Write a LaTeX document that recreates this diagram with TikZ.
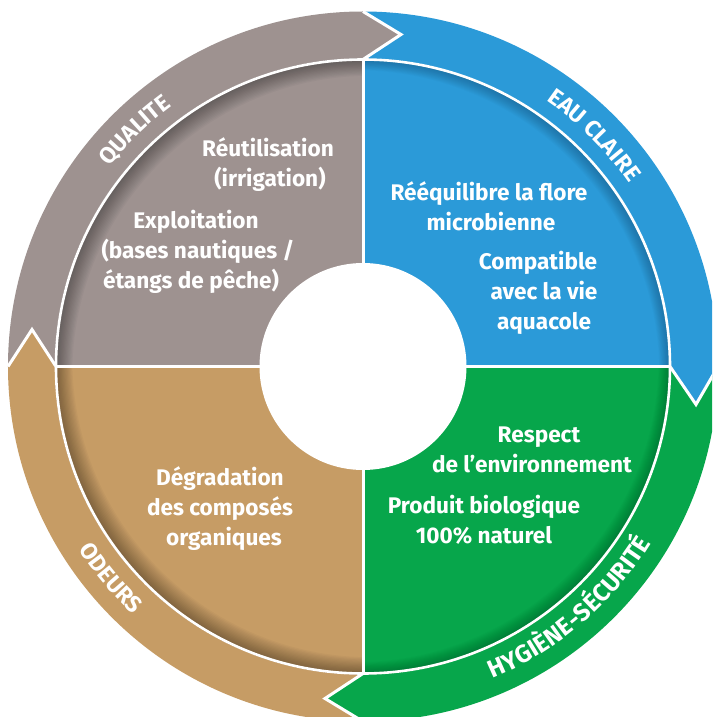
\documentclass[tikz,border=0pt]{standalone}
\usepackage{fontspec}
\setmainfont{Fira Sans}[BoldFont={Fira Sans Bold}]
\usetikzlibrary{decorations.text}
\definecolor{cgray}{HTML}{9E9290}
\definecolor{cblue}{HTML}{2B9AD8}
\definecolor{cgreen}{HTML}{07A64B}
\definecolor{ctan}{HTML}{C69C65}
\newcommand{\bodyfont}{\bfseries\fontsize{22.6}{30}\selectfont}
\newcommand{\bandfont}{\bfseries\fontsize{23}{26}\selectfont\color{white}}
\newcommand{\bandfontb}{\bfseries\fontsize{24.6}{26}\selectfont\color{white}}
\tikzset{
  x=1pt,y=1pt,
  bodytext/.style={text=white,align=center,font=\bodyfont,inner sep=0pt},
  band/.style={line width=3pt,draw=white,miter limit=10},
  sep/.style={draw=white,line width=3pt},
}
% quadrant shadow: #1 direction x, #2 direction y, #3 layer opacity, #4 shrink per layer
\newcommand{\quadshade}[4]{%
  \foreach \k in {1,...,14}{%
    \fill[black,opacity=#3,even odd rule]
      (0,0) circle[radius=308pt]
      ({#1*\k*0.8},{#2*\k*0.8}) circle[radius={(307-\k*#4)*1pt}];
  }%
}
\newcommand{\curvedlabel}[5]{% r, start, end, text, font
  \path[decorate,decoration={text along path,text align=center,
     text={|#5|#4}}]
     (#2:#1pt) arc[start angle=#2,end angle=#3,radius=#1pt];
}
\begin{document}
\begin{tikzpicture}
\useasboundingbox (-363,-350.5) rectangle (349,366.5);
\clip (-363,-350.5) rectangle (349,366.5);
\fill[white] (-363,-350.5) rectangle (349,366.5);
% outer bands
\fill[cgray] (180:355pt) arc[start angle=180,end angle=90,radius=355pt] -- (38,332) -- (90:307pt)
   arc[start angle=90,end angle=180,radius=307pt] -- (-331,37) -- cycle;
\fill[cblue] (90:355pt) arc[start angle=90,end angle=0,radius=355pt] -- (333,-38) -- (0:307pt)
   arc[start angle=0,end angle=90,radius=307pt] -- (38,332) -- cycle;
\fill[cgreen] (0:355pt) arc[start angle=0,end angle=-90,radius=355pt] -- (-38,-332) -- (-90:307pt)
   arc[start angle=-90,end angle=0,radius=307pt] -- (333,-38) -- cycle;
\fill[ctan] (-90:355pt) arc[start angle=-90,end angle=-180,radius=355pt] -- (-331,37) -- (180:307pt)
   arc[start angle=180,end angle=270,radius=307pt] -- (-38,-332) -- cycle;
% arrow outlines
\draw[band] (90:355pt) -- (38,332) -- (90:307pt);
\draw[band] (0:355pt) -- (333,-38) -- (0:307pt);
\draw[band] (-90:355pt) -- (-38,-332) -- (-90:307pt);
\draw[band] (180:355pt) -- (-331,37) -- (180:307pt);
% quadrants
\begin{scope}
  \clip (0,0) -- (90:308pt) arc[start angle=90,end angle=180,radius=308pt] -- cycle;
  \fill[cgray] (-310,0) rectangle (0,310);
  \quadshade{0.7}{-0.7}{0.026}{0.6}
\end{scope}
\begin{scope}
  \clip (0,0) -- (0:308pt) arc[start angle=0,end angle=90,radius=308pt] -- cycle;
  \fill[cblue] (0,0) rectangle (310,310);
  \quadshade{-0.7}{-0.7}{0.017}{0.2}
\end{scope}
\begin{scope}
  \clip (0,0) -- (0:308pt) arc[start angle=0,end angle=-90,radius=308pt] -- cycle;
  \fill[cgreen] (0,0) rectangle (310,-310);
  \quadshade{-0.7}{0.7}{0.017}{0.25}
\end{scope}
\begin{scope}
  \clip (0,0) -- (180:308pt) arc[start angle=180,end angle=270,radius=308pt] -- cycle;
  \fill[ctan] (-310,0) rectangle (0,-310);
  \quadshade{0.7}{0.7}{0.028}{0.6}
\end{scope}
% separators
\draw[sep,line width=2.6pt] (0,0) circle[radius=307pt];
\draw[sep] (-307,0) -- (307,0);
\draw[sep] (0,307) -- (0,-307);
\fill[white] (0,0) circle[radius=103.5pt];
% texts
\node[bodytext] (reuse) at (-95,201.5) {Réutilisation\\\hspace*{4pt}(irrigation)};
\node[bodytext] (expl) at (-167,115) {Exploitation\\\hspace*{4pt}(bases nautiques /\\étangs de pêche)\hspace*{10pt}};
\node[bodytext] (flore) at (126,160.5) {Rééquilibre la flore\\\hspace*{4pt}microbienne};
\node[bodytext] (compat) at (175,74) {Compatible\\\hspace*{12pt}avec la vie\\\hspace*{12pt}aquacole};
\node[bodytext] (degr) at (-143,-142.5) {Dégradation\\des composés\\\hspace*{8pt}organiques};
\node[bodytext] (resp) at (169,-83) {\hspace*{14pt}Respect\\de l’environnement};
\node[bodytext] (prod) at (121,-153) {Produit biologique\\100\% naturel};
% band labels
\curvedlabel{323}{152}{116}{QUALITE}{\bandfont}
\curvedlabel{323}{68}{22}{EAU CLAIRE}{\bandfont}
\curvedlabel{338}{-92}{-7}{HYGIÈNE-SÉCURITÉ}{\bandfontb}
\curvedlabel{338}{202}{238}{ODEURS}{\bandfont}
\end{tikzpicture}
\end{document}
